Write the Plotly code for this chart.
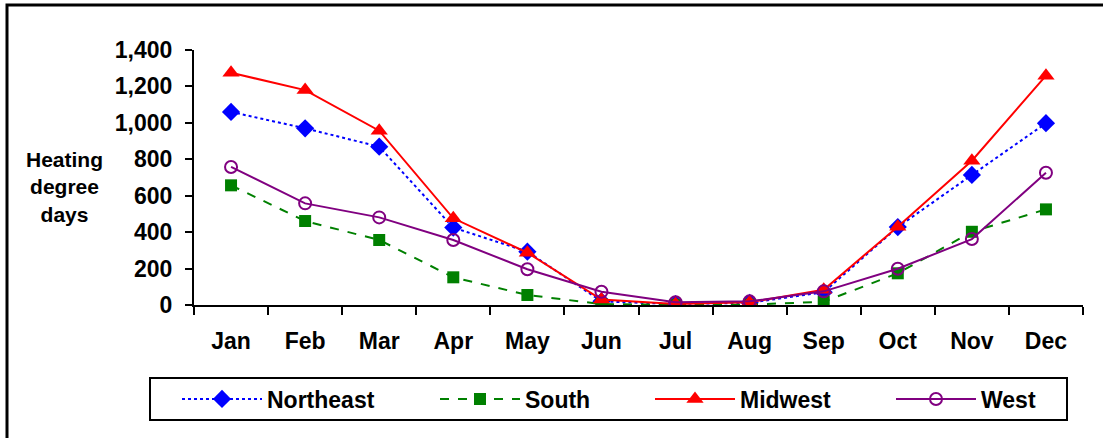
import plotly.graph_objects as go

# Monthly heating degree days by Census region
months = ["Jan", "Feb", "Mar", "Apr", "May", "Jun",
          "Jul", "Aug", "Sep", "Oct", "Nov", "Dec"]
northeast = [1060, 970, 869, 425, 293, 20, 5, 12, 70, 428, 714, 998]
south = [657, 461, 357, 152, 55, 5, 1, 2, 18, 174, 402, 525]
midwest = [1275, 1180, 957, 476, 287, 30, 6, 15, 84, 430, 792, 1259]
west = [758, 558, 481, 357, 196, 73, 15, 20, 75, 199, 362, 726]

y_ticks = [0, 200, 400, 600, 800, 1000, 1200, 1400]

W, H = 1103, 438
L, R, T, B = 194, 20, 50, 133
PW, PH = W - L - R, H - T - B

FONT = "Liberation Sans, Arial, sans-serif"


def px_x(px):
    return (px - L) / PW


def px_y(py):
    return (H - B - py) / PH


series = [
    ("Northeast", northeast, "#0000FF", "dot",
     dict(symbol="diamond", size=14, color="#0000FF")),
    ("South", south, "#008000", "dash",
     dict(symbol="square", size=12, color="#008000")),
    ("Midwest", midwest, "#FF0000", "solid",
     dict(symbol="triangle-up", size=15, color="#FF0000")),
    ("West", west, "#800080", "solid",
     dict(symbol="circle-open", size=12, color="#800080",
          line=dict(width=2, color="#800080"))),
]
# one legend per series so each entry sits at its own spot in the key box
legend_ids = ["legend", "legend2", "legend3", "legend4"]
legend_x = [177, 435, 650, 891]

fig = go.Figure()
for (name, vals, color, dash, marker), lid in zip(series, legend_ids):
    fig.add_trace(go.Scatter(
        x=months, y=vals, name=name, mode="lines+markers",
        line=dict(color=color, width=2, dash=dash),
        marker=marker, legend=lid,
    ))

layout_legends = {}
for lid, lx in zip(legend_ids, legend_x):
    layout_legends[lid] = dict(
        xref="container", yref="container",
        x=lx / W, xanchor="left", y=1 - 399 / H, yanchor="middle",
        orientation="h", itemwidth=80, borderwidth=0,
        bgcolor="rgba(0,0,0,0)",
        font=dict(family=FONT, size=23, color="black", weight="bold"),
    )

bold_tick = dict(family=FONT, size=23, color="black", weight="bold")

fig.update_layout(
    width=W, height=H,
    margin=dict(l=L, r=R, t=T, b=B, pad=0),
    paper_bgcolor="white", plot_bgcolor="white",
    font=dict(family=FONT, color="black"),
    showlegend=True,
    **layout_legends,
    xaxis=dict(
        type="category", range=[-0.5, 11.5], tickson="boundaries",
        ticks="outside", ticklen=8, tickwidth=2, tickcolor="black",
        showline=True, linecolor="black", linewidth=2, showgrid=False,
        tickfont=bold_tick, ticklabelstandoff=14,
    ),
    yaxis=dict(
        range=[0, 1400], tickvals=y_ticks, tickformat=",",
        ticks="outside", ticklen=7, tickwidth=2, tickcolor="black",
        showline=True, linecolor="black", linewidth=2, showgrid=False,
        zeroline=False, tickfont=bold_tick, ticklabelstandoff=8,
    ),
    annotations=[dict(
        text="<b>Heating<br>degree<br>days</b>", xref="paper", yref="paper",
        x=px_x(64), y=px_y(187), xanchor="center", yanchor="middle",
        showarrow=False, align="center",
        font=dict(family=FONT, size=21, color="black"),
    )],
    shapes=[
        # outer frame
        dict(type="rect", xref="paper", yref="paper",
             x0=px_x(7), x1=px_x(1120), y0=px_y(460), y1=px_y(5),
             line=dict(color="black", width=3), fillcolor="rgba(0,0,0,0)",
             layer="above"),
        # legend box
        dict(type="rect", xref="paper", yref="paper",
             x0=px_x(150), x1=px_x(1067), y0=px_y(420), y1=px_y(378),
             line=dict(color="black", width=2), fillcolor="rgba(0,0,0,0)",
             layer="above"),
    ],
)

fig.write_html("out.html")
